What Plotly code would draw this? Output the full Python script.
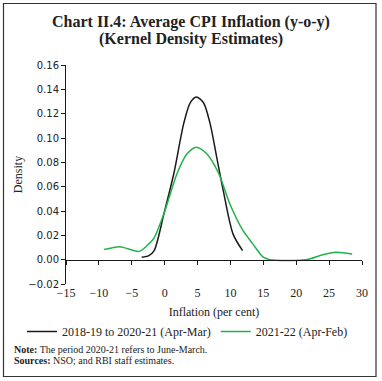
import plotly.graph_objects as go

# Data
black_x = [-3.5, -2.4, -1.6, -0.1, 1.4, 2.9, 3.9, 4.8, 5.9, 6.9, 7.9, 8.9, 10.4, 11.85]
black_y = [0.0019, 0.0033, 0.0074, 0.038, 0.071, 0.112, 0.129, 0.1338, 0.129, 0.112, 0.0845, 0.057, 0.021, 0.0074]

green_x = [-9.2, -6.8, -3.9, -2.4, -1.6, -0.1, 1.9, 3.4, 4.8, 6.4, 8.2, 9.9, 11.9, 13.4, 15.0, 16.0, 21.5, 24.0, 26.0, 28.5]
green_y = [0.0083, 0.0107, 0.0068, 0.013, 0.018, 0.038, 0.071, 0.087, 0.0925, 0.087, 0.071, 0.046, 0.024, 0.013, 0.002, 0.0, 0.0, 0.004, 0.006, 0.0047]

series_names = ["2018-19 to 2020-21 (Apr-Mar)", "2021-22 (Apr-Feb)"]
x_ticks = [-15, -10, -5, 0, 5, 10, 15, 20, 25, 30]
y_ticks = [-0.02, 0.00, 0.02, 0.04, 0.06, 0.08, 0.10, 0.12, 0.14, 0.16]
title_lines = ["Chart II.4: Average CPI Inflation (y-o-y)", "(Kernel Density Estimates)"]

W, H = 382, 381
L, R, T, B = 66, 20, 65, 97
pw, ph = W - L - R, H - T - B

SERIF = "Liberation Serif"
SANS = "DejaVu Sans"
BLACK = "#1a1a1a"
TXT = "#222222"
GREEN = "#21b24b"

fig = go.Figure()
fig.add_trace(go.Scatter(x=black_x, y=black_y, mode="lines", name=series_names[0],
                         line=dict(color=BLACK, width=1.5, shape="spline", smoothing=0.8)))
fig.add_trace(go.Scatter(x=green_x, y=green_y, mode="lines", name=series_names[1],
                         xaxis="x2",
                         line=dict(color=GREEN, width=1.5, shape="spline", smoothing=0.8)))

ymin, ymax = -0.02, 0.16
zero_pos = (0 - ymin) / (ymax - ymin)


def px_x(px):
    return (px - L) / pw


def px_y(py):
    return 1 - (py - T) / ph


fig.update_layout(
    width=W, height=H,
    margin=dict(l=L, r=R, t=T, b=B, autoexpand=False),
    paper_bgcolor="white", plot_bgcolor="white",
    font=dict(family=SERIF, size=12, color=TXT),
    xaxis=dict(range=[-15, 30], tickvals=x_ticks, showline=False, showgrid=False,
               zeroline=False, ticks="", tickfont=dict(family=SERIF, size=12),
               automargin=False,
               title=dict(text="Inflation (per cent)", font=dict(size=12), standoff=8)),
    xaxis2=dict(range=[-15, 30], tickvals=x_ticks, overlaying="x", matches="x",
                anchor="free", position=zero_pos, showline=True, linecolor=BLACK,
                linewidth=1, ticks="outside", ticklen=4, tickcolor=BLACK,
                showticklabels=False, showgrid=False, zeroline=False, automargin=False),
    yaxis=dict(range=[ymin, ymax], tickvals=y_ticks, tickformat=".2f",
               showline=True, linecolor=BLACK, linewidth=1, ticks="outside",
               ticklen=4, tickcolor=BLACK, showgrid=False, zeroline=False,
               tickfont=dict(family=SANS, size=10), automargin=False,
               title=dict(text="Density", font=dict(size=12), standoff=3)),
    legend=dict(orientation="h", x=px_x(22), xanchor="left", y=px_y(331.5),
                yanchor="middle", font=dict(family=SERIF, size=12),
                bgcolor="rgba(0,0,0,0)", itemwidth=30, tracegroupgap=0),
    showlegend=True,
)

fig.add_annotation(text="<b>%s</b>" % title_lines[0], xref="paper", yref="paper",
                   x=px_x(W / 2), y=px_y(21.5), xanchor="center", yanchor="middle",
                   showarrow=False, font=dict(family=SERIF, size=16, color=TXT))
fig.add_annotation(text="<b>%s</b>" % title_lines[1], xref="paper", yref="paper",
                   x=px_x(W / 2), y=px_y(39), xanchor="center", yanchor="middle",
                   showarrow=False, font=dict(family=SERIF, size=16, color=TXT))

fig.add_shape(type="rect", xref="paper", yref="paper",
              x0=px_x(3.5), x1=px_x(376), y0=px_y(376.5), y1=px_y(3.5),
              line=dict(color="#333333", width=1.2), fillcolor="rgba(0,0,0,0)",
              layer="above")

fig.add_annotation(text="<b>Note:</b> The period 2020-21 refers to June-March.",
                   xref="paper", yref="paper", x=px_x(12), y=px_y(349),
                   xanchor="left", yanchor="middle", showarrow=False,
                   font=dict(family=SERIF, size=10, color=TXT))
fig.add_annotation(text="<b>Sources:</b> NSO; and RBI staff estimates.",
                   xref="paper", yref="paper", x=px_x(12), y=px_y(360),
                   xanchor="left", yanchor="middle", showarrow=False,
                   font=dict(family=SERIF, size=10, color=TXT))

fig.write_html("out.html", config={"displayModeBar": False},
               post_script="document.body.style.margin='0';")
